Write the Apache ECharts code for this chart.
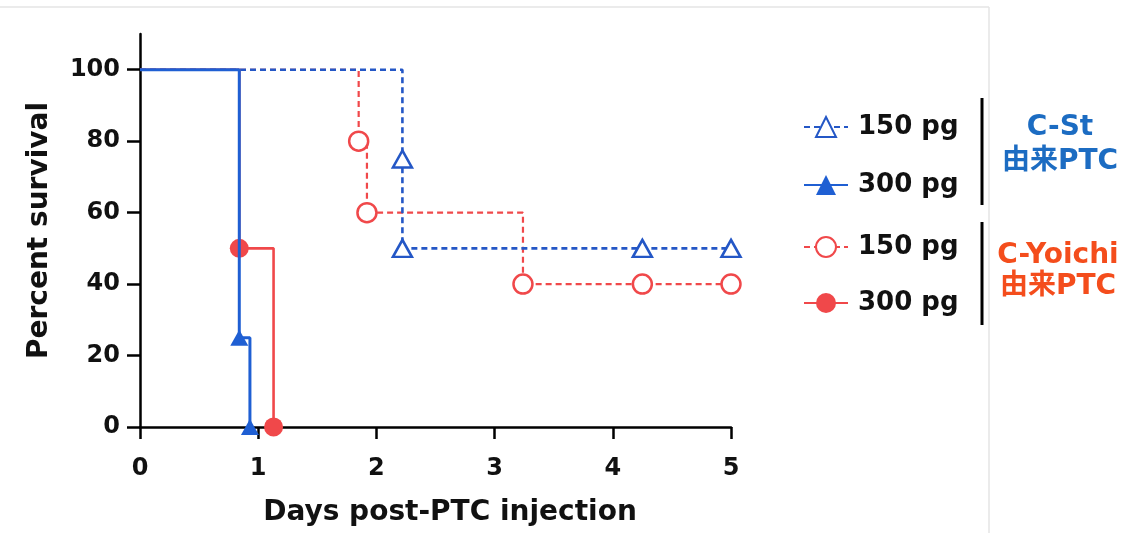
<!DOCTYPE html>
<html>
<head>
<meta charset="utf-8">
<script src="https://cdn.jsdelivr.net/npm/echarts@6/dist/echarts.min.js"></script>
<style>
html,body{margin:0;padding:0;background:#fff;}
#chart{width:1132px;height:533px;}
</style>
</head>
<body>
<div id="chart"></div>
<script>
// ---- data ----
const xTicks = [0, 1, 2, 3, 4, 5];
const yTicks = [0, 20, 40, 60, 80, 100];
// Kaplan–Meier step points [day, % survival]; first point of each curve has no marker
const stDays150 = [0, 2.22, 2.22, 4.25, 5.0];
const stSurv150 = [100, 75, 50, 50, 50];
const stDays300 = [0, 0.84, 0.93];
const stSurv300 = [100, 25, 0];
const yoDays150 = [0, 1.85, 1.92, 3.24, 4.25, 5.0];
const yoSurv150 = [100, 80, 60, 40, 40, 40];
const yoDays300 = [0, 0.84, 1.13];
const yoSurv300 = [100, 50, 0];
const legendLabels = {st150: '150 pg', st300: '300 pg', yo150: '150 pg', yo300: '300 pg'};
const groupLabels = ['C-St\n由来PTC', 'C-Yoichi\n由来PTC'];

const BLUE = '#1f5fd3';
const BLUE_D = '#2457c6';
const RED = '#f0484a';
const FONT = '"DejaVu Sans", "Noto Sans CJK JP", sans-serif';

function pts(days, surv) {
  return days.map((d, i) => i === 0 ? {value: [d, surv[i]], symbol: 'none'} : [d, surv[i]]);
}

const legendBase = {
  left: 798, orient: 'vertical', itemWidth: 44, itemHeight: 25,
  formatter: n => legendLabels[n],
  textStyle: {fontFamily: FONT, fontWeight: 'bold', fontSize: 26, color: '#111', lineHeight: 30, padding: [0, 0, 0, 5]},
  selectedMode: false
};

const chart = echarts.init(document.getElementById('chart'));
const option = {
  animation: false,
  backgroundColor: '#fff',
  grid: {left: 140, right: 401, top: 34, bottom: 106, containLabel: false},
  xAxis: {
    type: 'value', min: 0, max: 5, interval: 1,
    name: 'Days post-PTC injection', nameLocation: 'middle', nameGap: 72,
    nameTextStyle: {fontFamily: FONT, fontWeight: 'bold', fontSize: 28, color: '#111', padding: [0, 0, 0, 29]},
    axisLine: {lineStyle: {color: '#000', width: 2.5}},
    axisTick: {length: 12, lineStyle: {color: '#000', width: 2.5}},
    axisLabel: {fontFamily: FONT, fontWeight: 'bold', fontSize: 24, color: '#111', margin: 30,
      formatter: v => xTicks.includes(v) ? String(v) : ''},
    splitLine: {show: false}
  },
  yAxis: {
    type: 'value', min: 0, max: 110, interval: 20,
    name: 'Percent survival', nameLocation: 'middle', nameGap: 86, nameRotate: 90,
    nameTextStyle: {fontFamily: FONT, fontWeight: 'bold', fontSize: 28, color: '#111'},
    axisLine: {lineStyle: {color: '#000', width: 2.5}},
    axisTick: {length: 13, customValues: yTicks, lineStyle: {color: '#000', width: 2.5}},
    axisLabel: {fontFamily: FONT, fontWeight: 'bold', fontSize: 24, color: '#111', margin: 20, customValues: yTicks},
    splitLine: {show: false}
  },
  legend: [
    Object.assign({}, legendBase, {top: 107, itemGap: 28, data: ['st150', 'st300']}),
    Object.assign({}, legendBase, {top: 227, itemGap: 26, data: ['yo150', 'yo300']})
  ],
  graphic: [
    {type: 'line', shape: {x1: 0, y1: 7, x2: 989, y2: 7}, style: {stroke: '#e4e4e4', lineWidth: 1.5}, silent: true},
    {type: 'line', shape: {x1: 989, y1: 7, x2: 989, y2: 533}, style: {stroke: '#e4e4e4', lineWidth: 1.5}, silent: true},
    {type: 'line', shape: {x1: 982, y1: 98, x2: 982, y2: 205}, style: {stroke: '#000', lineWidth: 3}, silent: true},
    {type: 'line', shape: {x1: 982, y1: 222, x2: 982, y2: 325}, style: {stroke: '#000', lineWidth: 3}, silent: true},
    {type: 'text', left: 1001, top: 111, style: {text: groupLabels[0], font: 'bold 28px ' + FONT, fill: '#1c6cc2', textAlign: 'center', lineHeight: 34, width: 118}, silent: true},
    {type: 'text', left: 991, top: 240, style: {text: groupLabels[1], font: 'bold 28px ' + FONT, fill: '#f44d1c', textAlign: 'center', lineHeight: 31, width: 134}, silent: true}
  ],
  series: [
    {
      name: 'yo150', type: 'line', step: 'end', data: pts(yoDays150, yoSurv150),
      symbol: 'circle', symbolSize: 19, showAllSymbol: true, z: 2,
      lineStyle: {color: RED, width: 2.2, type: [6, 4]},
      itemStyle: {color: '#fff', borderColor: RED, borderWidth: 2.5}
    },
    {
      name: 'st150', type: 'line', step: 'end', data: pts(stDays150, stSurv150),
      symbol: 'triangle', symbolSize: [19, 17], showAllSymbol: true, z: 3,
      lineStyle: {color: BLUE_D, width: 2.6, type: [6, 4]},
      itemStyle: {color: '#fff', borderColor: BLUE_D, borderWidth: 2.5}
    },
    {
      name: 'yo300', type: 'line', step: 'end', data: pts(yoDays300, yoSurv300),
      symbol: 'circle', symbolSize: 19, showAllSymbol: true, z: 4,
      lineStyle: {color: RED, width: 2.6},
      itemStyle: {color: RED}
    },
    {
      name: 'st300', type: 'line', step: 'end', data: pts(stDays300, stSurv300),
      symbol: 'triangle', symbolSize: [18, 16], showAllSymbol: true, z: 5,
      lineStyle: {color: BLUE, width: 3},
      itemStyle: {color: BLUE}
    }
  ]
};
chart.setOption(option);
</script>
</body>
</html>
